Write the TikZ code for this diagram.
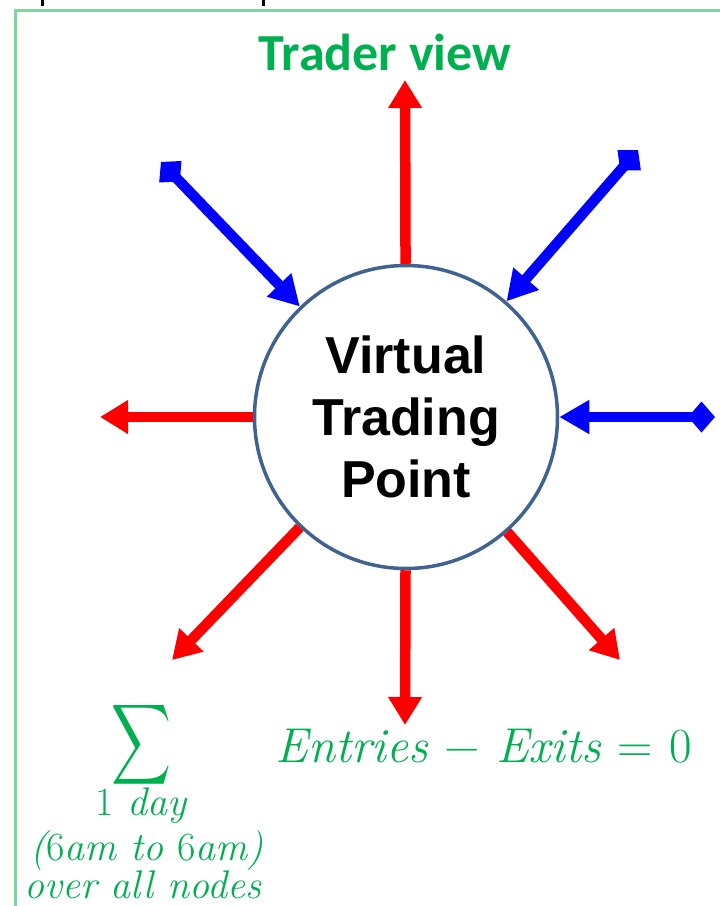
\documentclass[tikz,border=0pt]{standalone}
\usepackage{fontspec}
\usetikzlibrary{arrows.meta}
\newfontfamily\headfont{Carlito}
\newfontfamily\boxfont{Liberation Sans}
\definecolor{textgreen}{HTML}{00B050}
\definecolor{framegreen}{HTML}{7DD5A0}
\definecolor{ringblue}{HTML}{3F6290}
% italic formula text, spaced like math
\newcommand{\opsp}[1]{\hspace{0.34em}{\upshape #1}\hspace{0.34em}}
\begin{document}
\begin{tikzpicture}[x=1pt,y=-1pt,
  frame/.style={draw=framegreen,line width=3pt},
  hub/.style={circle,draw=ringblue,line width=3.5pt,fill=white,minimum size=303pt,inner sep=0pt,
    align=center,font=\boxfont\bfseries\fontsize{52}{62}\selectfont},
  outflow/.style={draw=red,line width=10.5pt,-{Triangle[length=28pt,width=32pt]}},
  inflow/.style={draw=blue,line width=10.5pt,{Diamond[length=27pt,width=31pt]}-{Triangle[length=30pt,width=32pt]}},
  eqtext/.style={text=textgreen,inner sep=0pt},
  limtext/.style={text=textgreen,inner sep=0pt,anchor=base,font=\itshape\fontsize{40}{41}\selectfont}]
\useasboundingbox (0,0) rectangle (720,906);
\fill[white] (0,0) rectangle (720,906);

% edge of the surrounding table and the green panel
\draw[black,line width=3pt] (42,0) -- (42,6);
\draw[black,line width=3pt] (263,0) -- (263,6);
\draw[frame] (720,10) -- (15,10) -- (15,906);

\node[eqtext,anchor=base,font=\headfont\bfseries\fontsize{52}{60}\selectfont] (title) at (385,70) {Trader view};

% the hub
\node[hub] (vtp) at (406,417) {Virtual\\Trading\\Point};

% free ends of the flows
\coordinate (up) at (405,80);
\coordinate (left) at (100,417);
\coordinate (down) at (405,725);
\coordinate (ll) at (172,660);
\coordinate (lr) at (620,660);
\coordinate (ul) at (161,162);
\coordinate (ur) at (638,150);
\coordinate (rt) at (715,417);

% exits
\draw[outflow] (vtp) -- (up);
\draw[outflow] (vtp) -- (left);
\draw[outflow] (vtp) -- (down);
\draw[outflow] (vtp) -- (ll);
\draw[outflow] (vtp) -- (lr);

% entries
\draw[inflow] (ul) -- (vtp);
\draw[inflow] (ur) -- (vtp);
\draw[inflow] (rt) -- (vtp);

% balance equation
\node[eqtext,anchor=base,font=\itshape\fontsize{49}{52}\selectfont] (balance) at (484,762)
  {Entries\opsp{−}Exits\opsp{=}{\upshape 0}};
\node[eqtext] (sum) at (142,745) {\resizebox*{60pt}{90pt}{$\displaystyle\sum$}};
\node[limtext] (lim1) at (141,815) {{\upshape 1} day};
\node[limtext] (lim2) at (147,860) {({\upshape 6}am to {\upshape 6}am)};
\node[limtext] (lim3) at (143,898) {over all nodes};
\end{tikzpicture}
\end{document}
